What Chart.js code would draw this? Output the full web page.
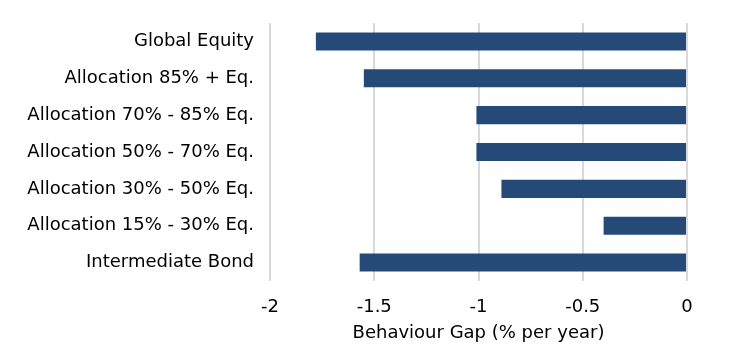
<!DOCTYPE html>
<html>
<head>
<meta charset="utf-8">
<script src="https://cdn.jsdelivr.net/npm/chart.js@4"></script>
<style>
  html, body { margin: 0; padding: 0; background: #fff; }
</style>
</head>
<body>
<canvas id="gapChart" width="736" height="364"></canvas>
<script>
const categories = [
    'Global Equity',
    'Allocation 85% + Eq.',
    'Allocation 70% - 85% Eq.',
    'Allocation 50% - 70% Eq.',
    'Allocation 30% - 50% Eq.',
    'Allocation 15% - 30% Eq.',
    'Intermediate Bond'
];
const behaviourGap = [-1.78, -1.55, -1.01, -1.01, -0.89, -0.40, -1.57];
const xTicks = [-2, -1.5, -1, -0.5, 0];

Chart.defaults.font.family = '"DejaVu Sans", Verdana, sans-serif';
Chart.defaults.font.size = 18;
Chart.defaults.color = '#000';

const ctx = document.getElementById('gapChart').getContext('2d');
new Chart(ctx, {
    type: 'bar',
    data: {
        labels: categories,
        datasets: [{
            label: 'Behaviour Gap',
            data: behaviourGap,
            backgroundColor: '#264a78',
            barPercentage: 0.49,
            categoryPercentage: 1
        }]
    },
    options: {
        indexAxis: 'y',
        responsive: false,
        animation: false,
        layout: { padding: { top: 23, right: 49, bottom: 20, left: 0 } },
        plugins: {
            legend: { display: false },
            tooltip: { enabled: false }
        },
        scales: {
            x: {
                min: xTicks[0],
                max: xTicks[xTicks.length - 1],
                afterBuildTicks: axis => { axis.ticks = xTicks.map(v => ({ value: v })); },
                ticks: {
                    padding: 16,
                    callback: v => String(v)
                },
                grid: { color: '#d9d9d9', lineWidth: 2, drawTicks: false },
                border: { display: false },
                title: {
                    display: true,
                    text: 'Behaviour Gap (% per year)',
                    padding: { top: 2, bottom: 0 }
                },
                afterFit: axis => { axis.height = 63; }
            },
            y: {
                ticks: { padding: 16 },
                grid: { display: false, drawTicks: false },
                border: { display: false },
                afterFit: axis => {
                    axis.width = 270;
                    axis.paddingTop = 0;
                    axis.paddingBottom = 0;
                }
            }
        }
    }
});
</script>
</body>
</html>
